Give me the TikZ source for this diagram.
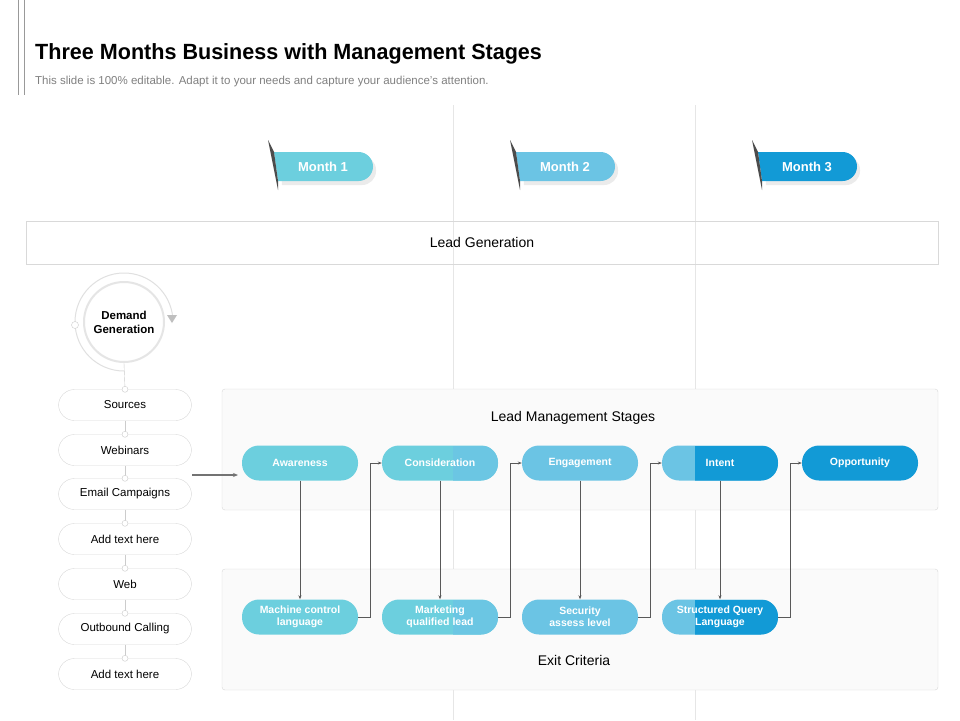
\documentclass[tikz,border=0pt]{standalone}
\usepackage{fontspec}
\setmainfont{Liberation Sans}
\usetikzlibrary{arrows.meta,patterns}
\definecolor{tealA}{HTML}{6CCFDE}
\definecolor{blueB}{HTML}{6BC4E4}
\definecolor{blueC}{HTML}{129AD6}
\definecolor{ln}{HTML}{E6E6E6}
\begin{document}
\begin{tikzpicture}[x=1pt,y=-1pt,
  pill/.style={rounded corners=17pt,minimum width=116pt,minimum height=35pt,text=white,font=\fontsize{10.5}{12}\selectfont\bfseries,align=center,inner sep=0pt},
  lpill/.style={draw=black!15,fill=white,rounded corners=16pt,minimum width=133pt,minimum height=31pt,font=\fontsize{11.5}{13}\selectfont,inner sep=0pt},
  conn/.style={draw=black!65,line width=0.7pt},
  arr/.style={conn,-{Stealth[length=4pt,width=3pt]}},
  dot/.style={circle,draw=black!20,fill=white,inner sep=0pt,minimum size=6pt},
  box/.style={draw=black!15,rounded corners=3pt,fill=black!2},
  splitA/.style={path picture={\fill[sharp corners,blueB!85!tealA] ([xshift=13pt]path picture bounding box.north) rectangle (path picture bounding box.south east);}},
  splitB/.style={path picture={\fill[sharp corners,blueC] ([xshift=-25pt]path picture bounding box.north) rectangle (path picture bounding box.south east);}}]
\useasboundingbox (0,0) rectangle (960,720);
\fill[white] (0,0) rectangle (960,720);
% top-left marks
\draw[black!40] (18,0) -- (18,95) (24,0) -- (24,95);
\node[anchor=west,font=\fontsize{22}{26}\selectfont\bfseries,inner sep=0pt] (title) at (35,54) {\scalebox{0.98}[1]{Three Months Business with Management Stages}};
\node[anchor=west,text=black!50,font=\fontsize{11.5}{13}\selectfont,inner sep=0pt] (sub) at (35,82) {This slide is 100\% editable. Adapt it to your needs and capture your audience's attention.};
% dividers
\draw[ln] (453,105) -- (453,720) (695,105) -- (695,720);
% month tabs
\foreach \x/\c/\t/\n in {270/tealA/Month 1/m1,512/blueB/Month 2/m2,754/blueC/Month 3/m3}{
  \fill[black!8] (\x+10,156) {[rounded corners=14pt] -- (\x+106,156) -- (\x+106,185) -- (\x+60,185)} -- (\x+12,185) -- cycle;
  \fill[\c] (\x+4,152) {[rounded corners=14.5pt] -- (\x+103,152) -- (\x+103,181)} -- (\x+8,181) -- cycle;
  \fill[black!70] (\x-2,140) -- (\x+4,152) -- (\x+8,181) -- (\x+8,190) -- cycle;
  \node[text=white,font=\fontsize{13}{15}\selectfont\bfseries] (\n) at (\x+53,166.5) {\t};
}
% lead generation
\node[draw=black!15,minimum width=912pt,minimum height=43pt,inner sep=0pt,font=\fontsize{14}{16}\selectfont] (lg) at (482,242.5) {Lead Generation};
% boxes
\draw[box] (222,389) rectangle (938,510);
\draw[box] (222,569) rectangle (938,690);
\node[font=\fontsize{14}{16}\selectfont] (lms) at (573,418) {Lead Management Stages};
\node[font=\fontsize{14}{16}\selectfont] (ec) at (574,660) {Exit Criteria};
% demand generation circle
\draw[black!12,line width=1pt] (124,371) arc (90:355:49);
\fill[black!25] (167,315) -- (177,315) -- (172,323) -- cycle;
\node[dot,minimum size=7pt] (d0) at (75,325) {};
\node[circle,fill=white,draw=black!10,line width=2pt,minimum size=80pt,font=\fontsize{11.5}{14}\selectfont\bfseries,align=center] (dg) at (124,322) {Demand\\Generation};
% left pills
\foreach \y/\t/\n in {405/Sources/s1,450/Webinars/s2,494/Email Campaigns/s3,539/Add text here/s4,584/Web/s5,629/Outbound Calling/s6,674/Add text here/s7}{
  \node[lpill] (\n) at (125,\y) {\t};
}
\draw[black!20] (dg.south) -- (s1.north);
\foreach \a/\b in {s1/s2,s2/s3,s3/s4,s4/s5,s5/s6,s6/s7}{\draw[black!20] (\a.south) -- (\b.north); \node[dot] at (\b.north) {};}
\node[dot] at (s1.north) {};
% stage pills
\node[pill,fill=tealA] (aw) at (300,463) {Awareness};
\node[pill,fill=tealA,splitA] (co) at (440,463) {Consideration};
\node[pill,fill=blueB] (en) at (580,463) {Engagement};
\node[pill,fill=blueB,splitB] (in) at (720,463) {Intent};
\node[pill,fill=blueC] (op) at (860,463) {Opportunity};
\node[pill,fill=tealA] (mc) at (300,617) {Machine control\\language};
\node[pill,fill=tealA,splitA] (mq) at (440,617) {Marketing\\qualified lead};
\node[pill,fill=blueB] (sa) at (580,617) {Security\\assess level};
\node[pill,fill=blueB,splitB] (sq) at (720,617) {Structured Query\\Language};
% connectors
\coordinate (e3) at (192,475);
\draw[black!55,line width=1.2pt,-{Stealth[length=5pt,width=4pt]}] (e3) -- (238,475);
\foreach \a/\b in {aw/mc,co/mq,en/sa,in/sq}{\draw[arr] (\a.south) -- (\b.north);}
\foreach \a/\b in {mc/co,mq/en,sa/in,sq/op}{\draw[arr] (\a.east) -- ++(12,0) |- (\b.west);}
\end{tikzpicture}
\end{document}
